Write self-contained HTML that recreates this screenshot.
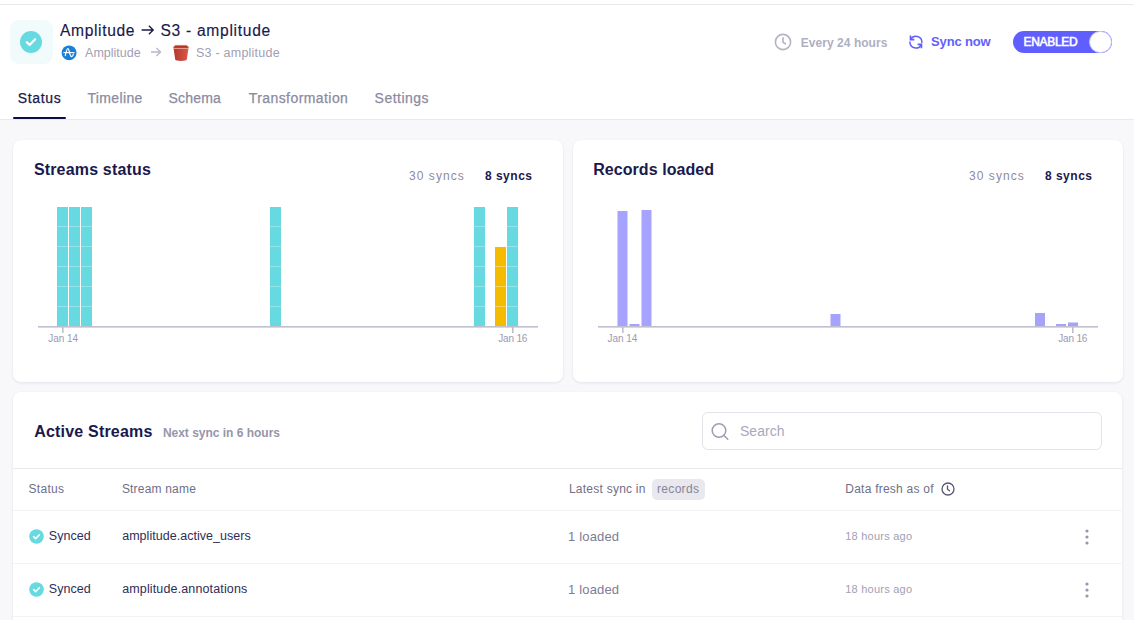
<!DOCTYPE html>
<html><head><meta charset="utf-8">
<style>
*{margin:0;padding:0;box-sizing:border-box;}
html,body{width:1134px;height:620px;overflow:hidden;background:#f8f8fa;font-family:"Liberation Sans",sans-serif;}
.a{position:absolute;white-space:nowrap;line-height:1;}
#hdr{position:absolute;left:0;top:0;width:1134px;height:120px;background:#fff;border-bottom:1px solid #e8e8ed;}
#topline{position:absolute;left:0;top:4px;width:1134px;height:1px;background:#e8e8ed;}
.card{position:absolute;background:#fff;border-radius:8px;box-shadow:0 1px 3px rgba(26,25,77,0.10);}
</style></head>
<body>
<div id="hdr"></div>
<div id="topline"></div>

<!-- connection icon -->
<div class="a" style="left:9.5px;top:20.3px;width:43.2px;height:43.5px;border-radius:9px;background:#f1fbfc;"></div>
<svg class="a" style="left:20px;top:31px" width="22" height="22" viewBox="0 0 22 22"><circle cx="11" cy="11" r="11" fill="#67dae1"/><path d="M6.8 11.2l2.8 2.7 5.6-5.6" stroke="#fff" stroke-width="2.2" fill="none" stroke-linecap="round" stroke-linejoin="round"/></svg>

<div class="a" id="t_title1" style="left:60.1px;top:22.61px;font-size:15.6px;color:#1a194d;letter-spacing:0.625px;-webkit-text-stroke:0.15px currentColor">Amplitude</div>
<svg class="a" style="left:141px;top:25px" width="14" height="10" viewBox="0 0 14 10"><path d="M0.6 5H12.2M7.9 0.8L12.2 5L7.9 9.2" stroke="#1a194d" stroke-width="1.35" fill="none"/></svg>
<div class="a" id="t_title2" style="left:160.5px;top:22.61px;font-size:15.6px;color:#1a194d;letter-spacing:0.708px;-webkit-text-stroke:0.15px currentColor">S3 - amplitude</div>
<!-- amplitude icon -->
<svg class="a" style="left:61px;top:45px" width="16" height="16" viewBox="0 0 16 16"><circle cx="8.1" cy="7.85" r="7.45" fill="#1a7fd8"/><path d="M2.4 7.6H13.6" stroke="#fff" stroke-width="1.1"/><path d="M4.3 10.6C5 7.5 5.8 3.6 6.8 3.6C7.9 3.6 8.4 7.5 9 9.3C9.5 10.9 10.1 11.6 10.8 11.6C11.6 11.6 12.1 10.6 12.3 9.2" stroke="#fff" stroke-width="1.2" fill="none" stroke-linecap="round"/></svg>
<div class="a" id="t_src" style="left:85.1px;top:46.71px;font-size:12.5px;color:#a0a0b4;letter-spacing:-0.002px">Amplitude</div>
<svg class="a" style="left:150px;top:46px" width="12" height="12" viewBox="0 0 12 12"><path d="M1 6h9.5M6.5 2l4 4-4 4" stroke="#b8b8c8" stroke-width="1.4" fill="none"/></svg>
<!-- bucket -->
<svg class="a" style="left:168px;top:40px" width="26" height="24" viewBox="0 0 26 24"><defs><linearGradient id="bk" x1="0" x2="1" y1="0" y2="0"><stop offset="0" stop-color="#b3382a"/><stop offset="1" stop-color="#d9584a"/></linearGradient></defs><path d="M5.6 8.4H20.4L18.8 19.6C18.6 20.6 16 20.9 13 20.9S7.4 20.6 7.2 19.6Z" fill="url(#bk)"/><path d="M5.3 6.9L7.6 5.3H18.4L20.7 6.9L20.4 8.6H5.6Z" fill="#c3402f"/><path d="M7.2 6.2H18.8L19.4 7.6H6.6Z" fill="#a52f22"/><path d="M5.4 8.4H20.6" stroke="#f1aa9e" stroke-width="0.8"/><path d="M5.3 6.9L7.6 5.3H18.4L20.7 6.9" stroke="#e98a7b" stroke-width="0.6" fill="none"/></svg>
<div class="a" id="t_dst" style="left:196.0px;top:46.71px;font-size:12.5px;color:#a0a0b4;letter-spacing:0.234px">S3 - amplitude</div>

<!-- right header -->
<svg class="a" style="left:774px;top:33px" width="18" height="18" viewBox="0 0 18 18"><circle cx="9" cy="9" r="7.6" stroke="#b3b3c4" stroke-width="1.6" fill="none"/><path d="M9 4.8V9.4l2.4 1.4" stroke="#b3b3c4" stroke-width="1.6" fill="none" stroke-linecap="round"/></svg>
<div class="a" id="t_every" style="left:800.8px;top:36.91px;font-size:12px;font-weight:bold;color:#afafc1;letter-spacing:0.041px">Every 24 hours</div>
<svg class="a" style="left:908px;top:34px" width="16" height="16" viewBox="0 0 16 16"><path d="M2.8 5.2A6 6 0 0 1 13.9 8.4M1.9 8A6 6 0 0 0 13.2 10.8" stroke="#615eff" stroke-width="1.5" fill="none" stroke-linecap="round"/><path d="M2.5 1.6V5.6H6.3M13.4 14.2V10.3H9.6" stroke="#615eff" stroke-width="1.7" fill="none" stroke-linejoin="miter"/></svg>
<div class="a" id="t_sync" style="left:931.1px;top:34.91px;font-size:13px;font-weight:bold;color:#615eff;letter-spacing:-0.176px">Sync now</div>
<div class="a" style="left:1012.5px;top:30.5px;width:99px;height:22.8px;border-radius:11.4px;background:#615eff;"></div>
<div class="a" style="left:1088.8px;top:30.5px;width:22.8px;height:22.8px;border-radius:11.4px;background:#fff;border:1px solid #c4c2ff;"></div>
<div class="a" id="t_enabled" style="left:1023.6px;top:35.81px;font-size:12px;color:#fff;letter-spacing:-0.339px;-webkit-text-stroke:0.55px currentColor">ENABLED</div>

<!-- tabs -->
<div class="a" id="t_tab1" style="left:17.8px;top:90.66px;font-size:14px;color:#1a194d;letter-spacing:0.64px;-webkit-text-stroke:0.25px currentColor">Status</div>
<div class="a" id="t_tab2" style="left:87.4px;top:90.66px;font-size:14px;color:#8b8ba0;letter-spacing:0.372px;-webkit-text-stroke:0.25px currentColor">Timeline</div>
<div class="a" id="t_tab3" style="left:168.5px;top:90.66px;font-size:14px;color:#8b8ba0;letter-spacing:0.192px;-webkit-text-stroke:0.25px currentColor">Schema</div>
<div class="a" id="t_tab4" style="left:248.7px;top:90.66px;font-size:14px;color:#8b8ba0;letter-spacing:0.43px;-webkit-text-stroke:0.25px currentColor">Transformation</div>
<div class="a" id="t_tab5" style="left:374.6px;top:90.66px;font-size:14px;color:#8b8ba0;letter-spacing:0.484px;-webkit-text-stroke:0.25px currentColor">Settings</div>
<div class="a" style="left:13px;top:117px;width:53px;height:2px;border-radius:1px;background:#0f0d45;"></div>

<!-- cards -->
<div class="card" style="left:13px;top:140px;width:550px;height:242px;"></div>
<div class="card" style="left:573px;top:140px;width:550px;height:242px;"></div>
<div class="card" style="left:13px;top:392px;width:1109px;height:260px;"></div>

<div class="a" id="t_ss" style="left:33.9px;top:162.01px;font-size:16px;font-weight:bold;color:#1a194d;letter-spacing:0.169px">Streams status</div>
<div class="a" id="t_30a" style="left:409.0px;top:169.81px;font-size:12px;color:#8b8ba0;letter-spacing:1.052px">30 syncs</div>
<div class="a" id="t_8a" style="left:484.9px;top:169.81px;font-size:12px;font-weight:bold;color:#1a194d;letter-spacing:0.515px">8 syncs</div>
<div class="a" id="t_rl" style="left:593.2px;top:162.01px;font-size:16px;font-weight:bold;color:#1a194d;letter-spacing:0.059px">Records loaded</div>
<div class="a" id="t_30b" style="left:969.0px;top:169.81px;font-size:12px;color:#8b8ba0;letter-spacing:1.052px">30 syncs</div>
<div class="a" id="t_8b" style="left:1044.9px;top:169.81px;font-size:12px;font-weight:bold;color:#1a194d;letter-spacing:0.515px">8 syncs</div>

<!-- chart 1 -->
<svg class="a" style="left:0;top:0" width="1134" height="400" viewBox="0 0 1134 400">
 <defs>
  <pattern id="seg" x="0" y="207" width="20" height="20" patternUnits="userSpaceOnUse">
   <rect x="0" y="0" width="20" height="19" fill="#67dae1"/>
   <rect x="0" y="19" width="20" height="1" fill="#93e5ea"/>
  </pattern>
 </defs>
 <g fill="url(#seg)">
  <rect x="57" y="207" width="11" height="119"/>
  <rect x="69" y="207" width="11" height="119"/>
  <rect x="81" y="207" width="11" height="119"/>
  <rect x="270" y="207" width="11" height="119"/>
  <rect x="474" y="207" width="11" height="119"/>
  <rect x="507" y="207" width="11" height="119"/>
 </g>
 <g fill="#f5bb00">
  <rect x="495" y="247" width="11" height="19"/>
  <rect x="495" y="267" width="11" height="19"/>
  <rect x="495" y="287" width="11" height="19"/>
  <rect x="495" y="307" width="11" height="19"/>
 </g>
 <g fill="#f8d35a"><rect x="495" y="266" width="11" height="1"/><rect x="495" y="286" width="11" height="1"/><rect x="495" y="306" width="11" height="1"/></g>
 <rect x="38" y="326" width="500" height="1.6" fill="#bfbfcd"/>
 <rect x="62" y="327" width="1.6" height="6" fill="#bfbfcd"/>
 <rect x="512" y="327" width="1.6" height="6" fill="#bfbfcd"/>
 <!-- chart 2 -->
 <g fill="#a5a3fd">
  <rect x="617.5" y="211" width="10" height="115"/>
  <rect x="629.5" y="324" width="10" height="2"/>
  <rect x="641.5" y="210" width="10" height="116"/>
  <rect x="830.5" y="314" width="10" height="12"/>
  <rect x="1035" y="313" width="10" height="13"/>
  <rect x="1056" y="324" width="10" height="2"/>
  <rect x="1068" y="322.5" width="10" height="3.5"/>
 </g>
 <rect x="598" y="326" width="500" height="1.6" fill="#bfbfcd"/>
 <rect x="622" y="327" width="1.6" height="6" fill="#bfbfcd"/>
 <rect x="1072" y="327" width="1.6" height="6" fill="#bfbfcd"/>
</svg>
<div class="a" id="t_j14a" style="left:48.2px;top:334.0px;font-size:10px;color:#9b9bb0;letter-spacing:-0.016px">Jan 14</div>
<div class="a" id="t_j16a" style="left:498.3px;top:334.0px;font-size:10px;color:#9b9bb0;letter-spacing:-0.2px">Jan 16</div>
<div class="a" id="t_j14b" style="left:607.5px;top:334.0px;font-size:10px;color:#9b9bb0;letter-spacing:-0.056px">Jan 14</div>
<div class="a" id="t_j16b" style="left:1058.3px;top:334.0px;font-size:10px;color:#9b9bb0;letter-spacing:-0.2px">Jan 16</div>

<!-- active streams -->
<div class="a" id="t_as" style="left:34.2px;top:423.71px;font-size:16px;font-weight:bold;color:#1a194d;letter-spacing:0.199px">Active Streams</div>
<div class="a" id="t_next" style="left:162.9px;top:426.71px;font-size:12px;font-weight:bold;color:#9696aa;letter-spacing:-0.016px">Next sync in 6 hours</div>
<div class="a" style="left:702px;top:412px;width:400px;height:38px;border:1px solid #e3e3ea;border-radius:6px;background:#fff;"></div>
<svg class="a" style="left:710px;top:422px" width="20" height="20" viewBox="0 0 20 20"><circle cx="9" cy="8.5" r="6.8" stroke="#9d9db2" stroke-width="1.5" fill="none"/><path d="M13.8 13.3l4 4" stroke="#9d9db2" stroke-width="1.5" stroke-linecap="round"/></svg>
<div class="a" id="t_search" style="left:739.9px;top:423.9px;font-size:14px;color:#a9a9bd;letter-spacing:0.056px">Search</div>
<div class="a" style="left:13px;top:468px;width:1109px;height:1px;background:#e8e8ed;"></div>

<div class="a" id="t_h1" style="left:28.6px;top:482.9px;font-size:12px;color:#6f6f88;letter-spacing:0.272px">Status</div>
<div class="a" id="t_h2" style="left:121.9px;top:482.9px;font-size:12px;color:#6f6f88;letter-spacing:0.192px">Stream name</div>
<div class="a" id="t_h3" style="left:568.9px;top:482.91px;font-size:12px;color:#6f6f88;letter-spacing:0.246px">Latest sync in</div>
<div class="a" style="left:652px;top:479px;width:53px;height:21px;border-radius:5px;background:#e8e8ee;"></div>
<div class="a" id="t_h3b" style="left:657.0px;top:482.9px;font-size:12px;color:#858599;letter-spacing:0.319px">records</div>
<div class="a" id="t_h4" style="left:845.3px;top:482.9px;font-size:12px;color:#6f6f88;letter-spacing:0.236px">Data fresh as of</div>
<svg class="a" style="left:941px;top:482px" width="14" height="14" viewBox="0 0 14 14"><circle cx="7" cy="7" r="6" stroke="#585874" stroke-width="1.3" fill="none"/><path d="M6.5 3.8V7.2l2 1.6" stroke="#585874" stroke-width="1.3" fill="none" stroke-linecap="round"/></svg>
<div class="a" style="left:13px;top:510px;width:1109px;height:1px;background:#f3f3f6;"></div>

<!-- row 1 -->
<svg class="a" style="left:28.5px;top:528.5px" width="15" height="15" viewBox="0 0 15 15"><circle cx="7.5" cy="7.5" r="7.3" fill="#67dae1"/><path d="M4.6 7.7l2 1.9 3.8-3.8" stroke="#fff" stroke-width="1.6" fill="none" stroke-linecap="round" stroke-linejoin="round"/></svg>
<div class="a" id="t_r1a" style="left:48.8px;top:530.0px;font-size:12.5px;color:#2e2d5a;letter-spacing:0.024px">Synced</div>
<div class="a" id="t_r1b" style="left:122.2px;top:530.01px;font-size:12.5px;color:#2e2d5a;letter-spacing:0.032px">amplitude.active_users</div>
<div class="a" id="t_r1c" style="left:568.1px;top:529.51px;font-size:13px;color:#7c7c96;letter-spacing:0.156px">1 loaded</div>
<div class="a" id="t_r1d" style="left:845.2px;top:530.8px;font-size:11px;color:#a0a0b4;letter-spacing:0.243px">18 hours ago</div>
<svg class="a" style="left:1084px;top:528px" width="6" height="18" viewBox="0 0 6 18"><circle cx="3" cy="3" r="1.6" fill="#9696b2"/><circle cx="3" cy="9" r="1.6" fill="#9696b2"/><circle cx="3" cy="15" r="1.6" fill="#9696b2"/></svg>
<div class="a" style="left:13px;top:563px;width:1109px;height:1px;background:#f3f3f6;"></div>

<!-- row 2 -->
<svg class="a" style="left:28.5px;top:581.5px" width="15" height="15" viewBox="0 0 15 15"><circle cx="7.5" cy="7.5" r="7.3" fill="#67dae1"/><path d="M4.6 7.7l2 1.9 3.8-3.8" stroke="#fff" stroke-width="1.6" fill="none" stroke-linecap="round" stroke-linejoin="round"/></svg>
<div class="a" id="t_r2a" style="left:48.8px;top:583.0px;font-size:12.5px;color:#2e2d5a;letter-spacing:0.024px">Synced</div>
<div class="a" id="t_r2b" style="left:122.2px;top:583.01px;font-size:12.5px;color:#2e2d5a;letter-spacing:0.138px">amplitude.annotations</div>
<div class="a" id="t_r2c" style="left:568.1px;top:582.51px;font-size:13px;color:#7c7c96;letter-spacing:0.156px">1 loaded</div>
<div class="a" id="t_r2d" style="left:845.2px;top:583.8px;font-size:11px;color:#a0a0b4;letter-spacing:0.243px">18 hours ago</div>
<svg class="a" style="left:1084px;top:581px" width="6" height="18" viewBox="0 0 6 18"><circle cx="3" cy="3" r="1.6" fill="#9696b2"/><circle cx="3" cy="9" r="1.6" fill="#9696b2"/><circle cx="3" cy="15" r="1.6" fill="#9696b2"/></svg>
<div class="a" style="left:13px;top:616px;width:1109px;height:1px;background:#f3f3f6;"></div>

</body></html>
